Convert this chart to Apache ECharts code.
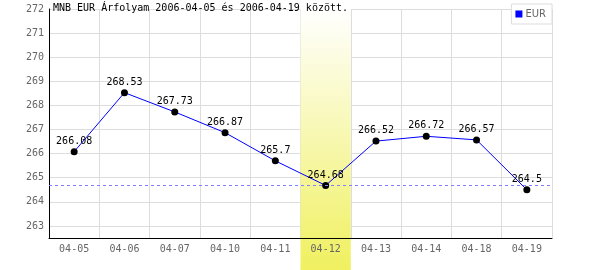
<!DOCTYPE html>
<html><head><meta charset="utf-8">
<script src="https://cdn.jsdelivr.net/npm/echarts@6/dist/echarts.min.js"></script>
<style>html,body{margin:0;padding:0;background:#fff}#c{width:600px;height:270px}</style>
</head><body><div id="c"></div>
<script>
const categories = ['04-05','04-06','04-07','04-10','04-11','04-12','04-13','04-14','04-18','04-19'];
const eurValues = [266.08,268.53,267.73,266.87,265.7,264.68,266.52,266.72,266.57,264.5];
const highlight = [null,null,null,null,null,1,null,null,null,null];
const refLine = 264.68;
const yMin = 262.5, yMax = 272;
const titleText = 'MNB EUR Árfolyam 2006-04-05 és 2006-04-19 között.';

const mono = 'DejaVu Sans Mono';
const chart = echarts.init(document.getElementById('c'), null, {renderer:'canvas'});
chart.setOption({
  animation:false,
  backgroundColor:'#fff',
  title:{text:titleText,left:53,top:3,padding:0,textStyle:{fontFamily:mono,fontSize:10,fontWeight:'normal',color:'#000'}},
  legend:{right:48,top:4,padding:[5,6,5,4],borderColor:'#ddd',borderWidth:1,backgroundColor:'#fff',
    itemWidth:7,itemHeight:7,itemGap:4,icon:'rect',
    textStyle:{fontFamily:'DejaVu Sans',fontSize:10,color:'#666',padding:[0,0,0,-2]},
    data:[{name:'EUR',itemStyle:{color:'#0000ff'}}]},
  grid:[
    {left:49,right:48,top:9,bottom:32},
    {left:49,right:48,top:9,bottom:0}
  ],
  xAxis:[
    {gridIndex:0,type:'category',data:categories,boundaryGap:true,z:3,
      axisLine:{lineStyle:{color:'#000',width:1}},axisTick:{show:false},
      axisLabel:{color:'#666',fontFamily:mono,fontSize:10,margin:6},splitLine:{show:false}},
    {gridIndex:1,type:'category',data:categories,boundaryGap:true,show:false},
    {gridIndex:0,type:'category',data:categories,boundaryGap:true,z:0,
      axisLine:{show:false},axisTick:{show:false},axisLabel:{show:false},
      splitLine:{show:true,lineStyle:{color:'#dddddd',width:1}}}
  ],
  yAxis:[
    {gridIndex:0,type:'value',min:yMin,max:yMax,z:3,splitNumber:10,minInterval:1,maxInterval:1,
      axisLine:{show:true,lineStyle:{color:'#000',width:1}},axisTick:{show:false},
      axisLabel:{color:'#666',fontFamily:mono,fontSize:10,margin:5,
        formatter:v=>Number.isInteger(v)?String(v):''},splitLine:{show:false}},
    {gridIndex:1,type:'value',min:0,max:1,show:false},
    {gridIndex:0,type:'value',min:yMin,max:yMax,z:0,splitNumber:10,minInterval:1,maxInterval:1,
      axisLine:{show:false},axisTick:{show:false},axisLabel:{show:false},
      splitLine:{show:true,lineStyle:{color:'#dddddd',width:1}}}
  ],
  series:[
    {type:'bar',xAxisIndex:1,yAxisIndex:1,data:highlight,barWidth:'100%',z:1,silent:true,
      itemStyle:{color:new echarts.graphic.LinearGradient(0,0,0,1,[{offset:0,color:'#ffffff'},{offset:1,color:'#f0f060'}])}},
    {name:'EUR',type:'line',xAxisIndex:0,yAxisIndex:0,data:eurValues,z:4,smooth:false,
      lineStyle:{color:'#0000ff',width:1},
      symbol:'circle',symbolSize:7,itemStyle:{color:'#000'},
      label:{show:true,position:'top',distance:2,color:'#000',fontFamily:mono,fontSize:10},
      markLine:{silent:true,symbol:'none',label:{show:false},
        lineStyle:{color:'#8080ff',type:[3,3],width:1},data:[{yAxis:refLine}]}}
  ]
});
</script></body></html>
